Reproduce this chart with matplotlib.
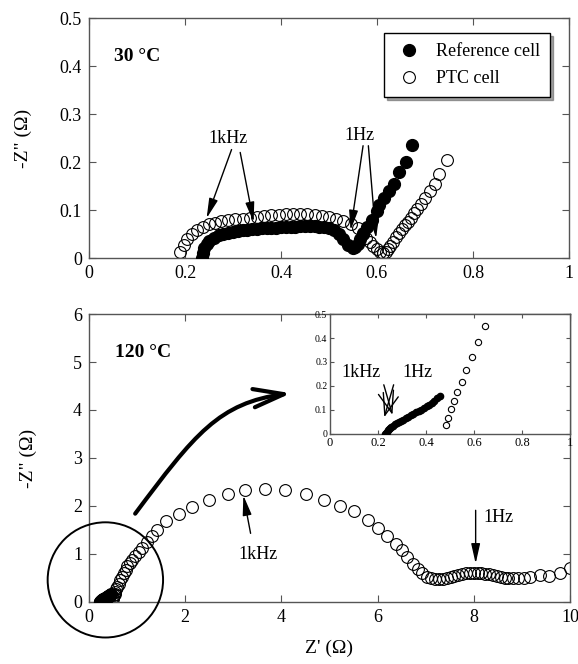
import matplotlib
matplotlib.use("Agg")
import matplotlib.pyplot as plt
from matplotlib.patches import Ellipse, FancyArrowPatch
from matplotlib.path import Path

plt.rcParams['font.family'] = ['Liberation Serif', 'DejaVu Serif']
plt.rcParams['font.size'] = 13

# 30 °C data
ref30_x = [0.235, 0.237, 0.24, 0.245, 0.25, 0.26, 0.27, 0.28, 0.29, 0.30, 0.31, 0.32, 0.33,
           0.34, 0.35, 0.36, 0.37, 0.38, 0.39, 0.40, 0.41, 0.42, 0.43, 0.44, 0.45, 0.46, 0.47,
           0.48, 0.49, 0.50, 0.51, 0.52, 0.53, 0.54, 0.55, 0.555, 0.56, 0.565, 0.57, 0.58,
           0.59, 0.60, 0.605, 0.615, 0.625, 0.635, 0.645, 0.66, 0.673]
ref30_y = [0.0, 0.01, 0.02, 0.03, 0.036, 0.042, 0.047, 0.05, 0.053, 0.055, 0.057, 0.058, 0.059,
           0.06, 0.061, 0.062, 0.062, 0.063, 0.063, 0.064, 0.064, 0.065, 0.065, 0.066, 0.066,
           0.066, 0.066, 0.065, 0.064, 0.063, 0.058, 0.05, 0.04, 0.028, 0.02, 0.022, 0.03,
           0.04, 0.05, 0.065, 0.08, 0.097, 0.11, 0.125, 0.14, 0.155, 0.18, 0.2, 0.235]
ptc30_x = [0.19, 0.197, 0.205, 0.215, 0.225, 0.237, 0.25, 0.262, 0.275, 0.29, 0.305, 0.32,
           0.335, 0.35, 0.365, 0.38, 0.395, 0.41, 0.425, 0.44, 0.455, 0.47, 0.485, 0.50,
           0.515, 0.53, 0.545, 0.56, 0.57, 0.578, 0.585, 0.592, 0.60, 0.607, 0.613, 0.618,
           0.623, 0.628, 0.634, 0.64, 0.646, 0.652, 0.658, 0.664, 0.67, 0.677, 0.684, 0.692,
           0.70, 0.71, 0.72, 0.73, 0.745]
ptc30_y = [0.013, 0.027, 0.04, 0.05, 0.058, 0.065, 0.07, 0.074, 0.077, 0.079, 0.081, 0.082,
           0.084, 0.086, 0.087, 0.089, 0.09, 0.091, 0.092, 0.092, 0.091, 0.09, 0.088, 0.085,
           0.082, 0.077, 0.071, 0.062, 0.052, 0.042, 0.033, 0.025, 0.018, 0.013, 0.01, 0.012,
           0.018, 0.025, 0.034, 0.043, 0.052, 0.06, 0.068, 0.076, 0.084, 0.093, 0.102, 0.112,
           0.125, 0.14, 0.155, 0.175, 0.205]

# 120 °C data
ref120_x = [0.229, 0.232, 0.236, 0.24, 0.245, 0.25, 0.256, 0.262, 0.27, 0.278, 0.287, 0.296,
            0.306, 0.316, 0.326, 0.336, 0.347, 0.358, 0.369, 0.38, 0.391, 0.402, 0.413,
            0.424, 0.435, 0.446, 0.458]
ref120_y = [0.0, 0.005, 0.01, 0.015, 0.02, 0.025, 0.03, 0.035, 0.04, 0.045, 0.05, 0.055,
            0.06, 0.066, 0.072, 0.078, 0.084, 0.09, 0.096, 0.102, 0.108, 0.115, 0.122,
            0.13, 0.138, 0.148, 0.16]
ptc120_x = [0.483, 0.493, 0.504, 0.517, 0.531, 0.549, 0.567, 0.59, 0.615, 0.647, 0.68, 0.72,
            0.76, 0.80, 0.85, 0.90, 0.96, 1.03, 1.1, 1.2, 1.3, 1.415, 1.61, 1.87, 2.14, 2.5,
            2.88, 3.25, 3.65, 4.08, 4.51, 4.88, 5.21, 5.52, 5.80, 6.0, 6.19, 6.38, 6.5, 6.61,
            6.73, 6.84, 6.93, 7.02, 7.11, 7.2, 7.28, 7.36, 7.44, 7.52, 7.6, 7.68, 7.76, 7.84,
            7.92, 8.0, 8.08, 8.16, 8.24, 8.32, 8.40, 8.48, 8.56, 8.64, 8.72, 8.82, 8.93, 9.05,
            9.18, 9.37, 9.56, 9.79, 10.0]
ptc120_y = [0.038, 0.068, 0.103, 0.139, 0.176, 0.218, 0.267, 0.32, 0.382, 0.45, 0.52, 0.6,
            0.67, 0.74, 0.81, 0.88, 0.96, 1.04, 1.12, 1.25, 1.37, 1.5, 1.68, 1.83, 1.98, 2.13,
            2.26, 2.33, 2.35, 2.33, 2.24, 2.13, 2.01, 1.89, 1.70, 1.55, 1.38, 1.20, 1.08, 0.94,
            0.80, 0.68, 0.6, 0.53, 0.49, 0.47, 0.47, 0.48, 0.5, 0.52, 0.55, 0.57, 0.59, 0.6,
            0.61, 0.61, 0.61, 0.6, 0.59, 0.58, 0.56, 0.54, 0.53, 0.51, 0.5, 0.5, 0.5, 0.51,
            0.52, 0.56, 0.54, 0.61, 0.7]

spine_col = '#555555'
arrow_kw = dict(arrowstyle='-|>,head_length=0.8,head_width=0.18', color='k', lw=1,
                shrinkA=0, shrinkB=0, mutation_scale=15)


def style(ax, size=13):
    for s in ax.spines.values():
        s.set_color(spine_col)
        s.set_linewidth(1.0)
    ax.tick_params(direction='in', top=True, right=True, length=5, labelsize=size,
                   color=spine_col, pad=5)


def fmt(v):
    return '%g' % v


fig = plt.figure(figsize=(5.78, 6.64), dpi=100)

# ---- top panel
ax1 = fig.add_axes([0.154, 0.6114, 0.8304, 0.3614])
ax1.plot(ref30_x, ref30_y, 'o', color='k', ms=8.5, label='Reference cell', zorder=3)
ax1.plot(ptc30_x, ptc30_y, 'o', mfc='none', mec='k', mew=0.8, ms=8.5, label='PTC cell', zorder=2)
ax1.set_xlim(0, 1)
ax1.set_ylim(0, 0.5)
xt = [0, 0.2, 0.4, 0.6, 0.8, 1]
yt = [0, 0.1, 0.2, 0.3, 0.4, 0.5]
ax1.set_xticks(xt, [fmt(v) for v in xt])
ax1.set_yticks(yt, [fmt(v) for v in yt])
style(ax1)
ax1.set_ylabel('-Z" (Ω)', fontsize=14, labelpad=20)
ax1.text(0.052, 0.419, '30 °C', fontsize=14, fontweight='bold', va='center')
leg = ax1.legend(loc='upper right', bbox_to_anchor=(0.96, 0.9375), borderaxespad=0,
                 fancybox=False, edgecolor='k', shadow=True, fontsize=13,
                 handletextpad=0.7, borderpad=0.55, labelspacing=0.55, handlelength=1.6)
leg.get_frame().set_linewidth(1.0)

ax1.text(0.29, 0.25, '1kHz', ha='center', va='center', fontsize=13)
ax1.annotate('', xy=(0.245, 0.083), xytext=(0.297, 0.226), arrowprops=arrow_kw)
ax1.annotate('', xy=(0.343, 0.075), xytext=(0.315, 0.22), arrowprops=arrow_kw)
ax1.text(0.563, 0.255, '1Hz', ha='center', va='center', fontsize=13)
ax1.annotate('', xy=(0.545, 0.058), xytext=(0.571, 0.234), arrowprops=arrow_kw)
ax1.annotate('', xy=(0.598, 0.041), xytext=(0.582, 0.234), arrowprops=arrow_kw)

# ---- bottom panel
ax2 = fig.add_axes([0.154, 0.0934, 0.832, 0.4337])
ax2.plot(ptc120_x, ptc120_y, 'o', mfc='none', mec='k', mew=0.8, ms=8.5, zorder=2)
ax2.plot(ref120_x, ref120_y, 'o', color='k', ms=8.5, zorder=3)
ax2.set_xlim(0, 10)
ax2.set_ylim(0, 6)
ax2.set_xticks([0, 2, 4, 6, 8, 10])
ax2.set_yticks([0, 1, 2, 3, 4, 5, 6])
style(ax2)
ax2.set_ylabel('-Z" (Ω)', fontsize=14, labelpad=26)
ax2.set_xlabel("Z' (Ω)", fontsize=14, labelpad=10)
ax2.text(0.55, 5.2, '120 °C', fontsize=14, fontweight='bold', va='center')

ax2.text(3.52, 0.98, '1kHz', ha='center', va='center', fontsize=13)
ax2.annotate('', xy=(3.21, 2.22), xytext=(3.36, 1.43), arrowprops=arrow_kw)
ax2.text(8.2, 1.77, '1Hz', ha='left', va='center', fontsize=13)
ax2.annotate('', xy=(8.04, 0.80), xytext=(8.04, 1.91), arrowprops=arrow_kw)

circ = Ellipse((0.34, 0.46), 2.4, 2.4, fill=False, ec='k', lw=1.4, clip_on=False, zorder=4)
ax2.add_patch(circ)

curve = Path([(0.96, 1.84), (2.2, 3.5), (2.7, 4.15), (4.2, 4.35)],
             [Path.MOVETO, Path.CURVE4, Path.CURVE4, Path.CURVE4])
big = FancyArrowPatch(path=curve, arrowstyle='->,head_length=0.73,head_width=0.22',
                      mutation_scale=30, lw=3, color='k', transform=ax2.transData,
                      clip_on=False, zorder=4)
ax2.add_patch(big)

# ---- inset
ax3 = fig.add_axes([0.571, 0.3464, 0.4152, 0.1807])
ax3.plot(ptc120_x, ptc120_y, 'o', mfc='none', mec='k', mew=0.8, ms=4.5, zorder=2)
ax3.plot(ref120_x, ref120_y, 'o', color='k', ms=4.5, zorder=3)
ax3.set_xlim(0, 1)
ax3.set_ylim(0, 0.5)
ax3.set_xticks(xt, [fmt(v) for v in xt])
ax3.set_yticks(yt, [fmt(v) for v in yt])
style(ax3, size=9)
ax3.tick_params(labelsize=9, length=3, pad=2)
ax3.tick_params(axis='y', labelsize=7)
ax3.text(0.13, 0.255, '1kHz', ha='center', va='center', fontsize=13)
ax3.text(0.365, 0.255, '1Hz', ha='center', va='center', fontsize=13)
small_kw = dict(arrowstyle='->,head_length=0.55,head_width=0.2', color='k', lw=1,
                shrinkA=0, shrinkB=0, mutation_scale=28)
ax3.annotate('', xy=(0.226, 0.07), xytext=(0.265, 0.205), arrowprops=small_kw)
ax3.annotate('', xy=(0.26, 0.08), xytext=(0.224, 0.205), arrowprops=small_kw)

fig.savefig('out.png', dpi=100)
